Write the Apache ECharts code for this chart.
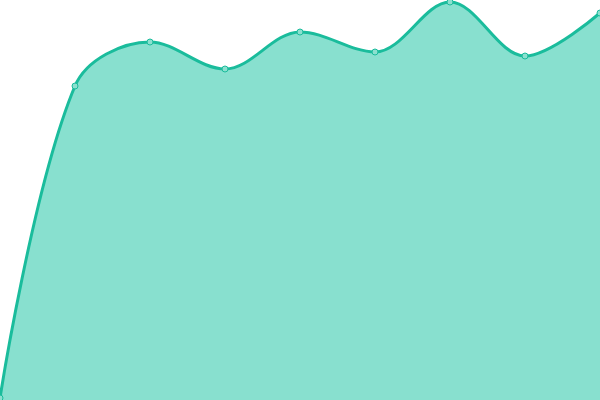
<!DOCTYPE html>
<html>
<head>
<meta charset="utf-8">
<script src="https://cdn.jsdelivr.net/npm/echarts@6/dist/echarts.min.js"></script>
<style>html,body{margin:0;padding:0;background:#fff}#c{width:600px;height:400px}</style>
</head>
<body>
<div id="c"></div>
<script>
var categories = ['1','2','3','4','5','6','7','8','9'];
var values = [2, 314, 358, 331, 368, 348, 398, 344, 387];

var chart = echarts.init(document.getElementById('c'));
chart.setOption({
  animation: false,
  grid: {left: 0, right: 0, top: 0, bottom: 0},
  xAxis: {type: 'category', data: categories, boundaryGap: false, show: false},
  yAxis: {type: 'value', min: 0, max: 400, show: false},
  series: [{
    type: 'line',
    data: values,
    smooth: 0.35,
    symbol: 'circle',
    symbolSize: 6,
    lineStyle: {color: '#1abc9c', width: 3},
    itemStyle: {color: '#8ce0cf', borderColor: '#1abc9c', borderWidth: 1},
    areaStyle: {color: '#88e0cf', opacity: 1}
  }]
});
</script>
</body>
</html>
